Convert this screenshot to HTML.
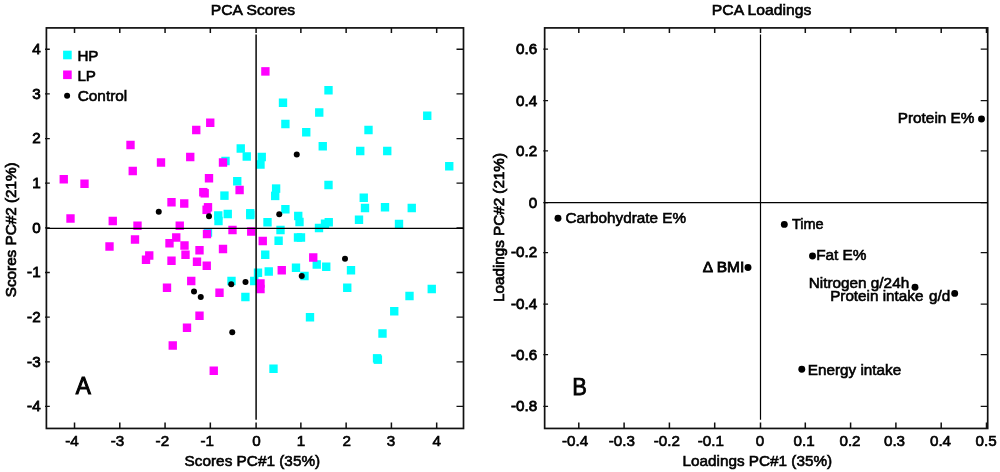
<!DOCTYPE html>
<html lang="en"><head><meta charset="utf-8"><title>PCA Scores and Loadings</title>
<style>html,body{margin:0;padding:0;background:#fff}body{width:1000px;height:472px;overflow:hidden}svg{display:block;will-change:transform;opacity:.999}text{font-family:"Liberation Sans",Arial,Helvetica,sans-serif;fill:#000;stroke:#000;font-size:15.2px}.k{stroke-width:.8px}.kx{stroke-width:.65px}.l{stroke-width:.6px}.v{stroke-width:.7px}.big{font-size:24px;stroke-width:.9px}</style></head><body>
<svg width="1000" height="472" viewBox="0 0 1000 472">
<rect width="1000" height="472" fill="#fff"/>
<g fill="#00ffff">
<rect x="324.32" y="86.00" width="8.35" height="8.5"/>
<rect x="278.82" y="98.50" width="8.35" height="8.5"/>
<rect x="315.07" y="108.25" width="8.35" height="8.5"/>
<rect x="281.22" y="119.75" width="8.35" height="8.5"/>
<rect x="302.07" y="128.00" width="8.35" height="8.5"/>
<rect x="364.32" y="125.75" width="8.35" height="8.5"/>
<rect x="423.07" y="111.50" width="8.35" height="8.5"/>
<rect x="236.57" y="144.25" width="8.35" height="8.5"/>
<rect x="242.57" y="152.25" width="8.35" height="8.5"/>
<rect x="257.57" y="152.75" width="8.35" height="8.5"/>
<rect x="256.32" y="160.25" width="8.35" height="8.5"/>
<rect x="221.32" y="156.75" width="8.35" height="8.5"/>
<rect x="233.07" y="177.00" width="8.35" height="8.5"/>
<rect x="220.27" y="191.40" width="8.35" height="8.5"/>
<rect x="271.93" y="184.35" width="8.35" height="8.5"/>
<rect x="271.02" y="191.65" width="8.35" height="8.5"/>
<rect x="281.22" y="205.00" width="8.35" height="8.5"/>
<rect x="246.07" y="209.05" width="8.35" height="8.5"/>
<rect x="246.12" y="210.75" width="8.35" height="8.5"/>
<rect x="223.57" y="209.75" width="8.35" height="8.5"/>
<rect x="214.07" y="211.25" width="8.35" height="8.5"/>
<rect x="214.32" y="216.75" width="8.35" height="8.5"/>
<rect x="263.32" y="218.00" width="8.35" height="8.5"/>
<rect x="276.32" y="225.75" width="8.35" height="8.5"/>
<rect x="274.43" y="236.50" width="8.35" height="8.5"/>
<rect x="203.82" y="228.25" width="8.35" height="8.5"/>
<rect x="318.57" y="142.00" width="8.35" height="8.5"/>
<rect x="356.07" y="146.75" width="8.35" height="8.5"/>
<rect x="383.07" y="146.75" width="8.35" height="8.5"/>
<rect x="445.07" y="162.00" width="8.35" height="8.5"/>
<rect x="324.32" y="180.75" width="8.35" height="8.5"/>
<rect x="359.57" y="193.50" width="8.35" height="8.5"/>
<rect x="360.82" y="203.75" width="8.35" height="8.5"/>
<rect x="380.82" y="203.00" width="8.35" height="8.5"/>
<rect x="407.57" y="203.75" width="8.35" height="8.5"/>
<rect x="294.07" y="211.75" width="8.35" height="8.5"/>
<rect x="295.32" y="217.75" width="8.35" height="8.5"/>
<rect x="354.82" y="215.50" width="8.35" height="8.5"/>
<rect x="394.82" y="219.75" width="8.35" height="8.5"/>
<rect x="324.57" y="218.00" width="8.35" height="8.5"/>
<rect x="320.82" y="219.50" width="8.35" height="8.5"/>
<rect x="314.82" y="223.75" width="8.35" height="8.5"/>
<rect x="293.82" y="233.25" width="8.35" height="8.5"/>
<rect x="296.82" y="233.25" width="8.35" height="8.5"/>
<rect x="261.07" y="250.50" width="8.35" height="8.5"/>
<rect x="253.82" y="268.50" width="8.35" height="8.5"/>
<rect x="264.57" y="267.25" width="8.35" height="8.5"/>
<rect x="227.32" y="276.75" width="8.35" height="8.5"/>
<rect x="250.07" y="276.75" width="8.35" height="8.5"/>
<rect x="241.22" y="292.75" width="8.35" height="8.5"/>
<rect x="291.82" y="263.50" width="8.35" height="8.5"/>
<rect x="312.57" y="260.25" width="8.35" height="8.5"/>
<rect x="322.07" y="262.50" width="8.35" height="8.5"/>
<rect x="346.82" y="266.00" width="8.35" height="8.5"/>
<rect x="300.32" y="271.75" width="8.35" height="8.5"/>
<rect x="343.07" y="283.50" width="8.35" height="8.5"/>
<rect x="427.57" y="284.75" width="8.35" height="8.5"/>
<rect x="405.32" y="291.75" width="8.35" height="8.5"/>
<rect x="390.07" y="307.00" width="8.35" height="8.5"/>
<rect x="305.82" y="313.00" width="8.35" height="8.5"/>
<rect x="378.32" y="329.25" width="8.35" height="8.5"/>
<rect x="269.32" y="364.50" width="8.35" height="8.5"/>
<rect x="372.88" y="354.10" width="8.35" height="8.5"/>
<rect x="373.72" y="355.40" width="8.35" height="8.5"/>
</g><g fill="#ff00ff">
<rect x="261.22" y="67.15" width="8.35" height="8.5"/>
<rect x="206.07" y="118.50" width="8.35" height="8.5"/>
<rect x="192.07" y="125.75" width="8.35" height="8.5"/>
<rect x="126.33" y="140.75" width="8.35" height="8.5"/>
<rect x="186.07" y="152.75" width="8.35" height="8.5"/>
<rect x="156.82" y="158.25" width="8.35" height="8.5"/>
<rect x="218.82" y="158.25" width="8.35" height="8.5"/>
<rect x="128.57" y="166.75" width="8.35" height="8.5"/>
<rect x="59.58" y="175.00" width="8.35" height="8.5"/>
<rect x="80.33" y="179.50" width="8.35" height="8.5"/>
<rect x="204.82" y="174.00" width="8.35" height="8.5"/>
<rect x="235.42" y="185.75" width="8.35" height="8.5"/>
<rect x="199.12" y="187.95" width="8.35" height="8.5"/>
<rect x="200.52" y="189.05" width="8.35" height="8.5"/>
<rect x="167.32" y="198.00" width="8.35" height="8.5"/>
<rect x="180.07" y="199.25" width="8.35" height="8.5"/>
<rect x="203.82" y="203.05" width="8.35" height="8.5"/>
<rect x="202.42" y="205.55" width="8.35" height="8.5"/>
<rect x="66.33" y="214.25" width="8.35" height="8.5"/>
<rect x="108.58" y="216.75" width="8.35" height="8.5"/>
<rect x="133.32" y="221.50" width="8.35" height="8.5"/>
<rect x="175.57" y="221.50" width="8.35" height="8.5"/>
<rect x="228.32" y="225.75" width="8.35" height="8.5"/>
<rect x="247.07" y="227.25" width="8.35" height="8.5"/>
<rect x="202.82" y="229.75" width="8.35" height="8.5"/>
<rect x="130.82" y="235.25" width="8.35" height="8.5"/>
<rect x="172.07" y="233.25" width="8.35" height="8.5"/>
<rect x="165.32" y="239.00" width="8.35" height="8.5"/>
<rect x="105.33" y="242.25" width="8.35" height="8.5"/>
<rect x="180.32" y="241.25" width="8.35" height="8.5"/>
<rect x="258.57" y="236.75" width="8.35" height="8.5"/>
<rect x="218.82" y="244.75" width="8.35" height="8.5"/>
<rect x="195.32" y="246.00" width="8.35" height="8.5"/>
<rect x="145.07" y="251.25" width="8.35" height="8.5"/>
<rect x="141.82" y="255.50" width="8.35" height="8.5"/>
<rect x="181.32" y="250.50" width="8.35" height="8.5"/>
<rect x="167.32" y="256.50" width="8.35" height="8.5"/>
<rect x="192.82" y="257.50" width="8.35" height="8.5"/>
<rect x="202.57" y="261.50" width="8.35" height="8.5"/>
<rect x="187.07" y="276.75" width="8.35" height="8.5"/>
<rect x="162.82" y="283.50" width="8.35" height="8.5"/>
<rect x="215.32" y="288.50" width="8.35" height="8.5"/>
<rect x="195.32" y="311.50" width="8.35" height="8.5"/>
<rect x="182.82" y="323.50" width="8.35" height="8.5"/>
<rect x="168.57" y="341.25" width="8.35" height="8.5"/>
<rect x="277.57" y="266.00" width="8.35" height="8.5"/>
<rect x="256.32" y="279.25" width="8.35" height="8.5"/>
<rect x="256.32" y="284.75" width="8.35" height="8.5"/>
<rect x="309.07" y="253.25" width="8.35" height="8.5"/>
<rect x="209.57" y="366.50" width="8.35" height="8.5"/>
</g><g fill="#000">
<circle cx="158.75" cy="211.75" r="3"/>
<circle cx="209.00" cy="216.25" r="3"/>
<circle cx="279.25" cy="214.25" r="3"/>
<circle cx="296.75" cy="154.50" r="3"/>
<circle cx="231.25" cy="284.25" r="3"/>
<circle cx="245.50" cy="282.00" r="3"/>
<circle cx="194.00" cy="291.50" r="3"/>
<circle cx="200.75" cy="297.00" r="3"/>
<circle cx="232.25" cy="332.25" r="3"/>
<circle cx="345.00" cy="258.75" r="3"/>
<circle cx="301.75" cy="276.00" r="3"/>
</g>
<rect x="63.1" y="50.7" width="8.6" height="8.6" fill="#00ffff"/>
<rect x="63.1" y="70.5" width="8.6" height="8.6" fill="#ff00ff"/>
<circle cx="67.1" cy="95.8" r="3" fill="#000"/>
<text id="lgHP" class="l" x="77.40" y="60.60">HP</text>
<text id="lgLP" class="l" x="77.40" y="80.50">LP</text>
<text id="lgC" class="l" textLength="49.57" lengthAdjust="spacingAndGlyphs" x="77.72" y="101.20">Control</text>
<g stroke="#111" fill="none">
<rect x="46.4" y="27.9" width="417.10" height="400.55" stroke-width="1.7"/>
<path stroke-width="1.5" d="M74.52 27.90v5M74.52 428.45v-5.9M119.79 27.90v5M119.79 428.45v-5.9M165.06 27.90v5M165.06 428.45v-5.9M210.33 27.90v5M210.33 428.45v-5.9M256.10 27.90v5M256.10 428.45v-5.9M300.87 27.90v5M300.87 428.45v-5.9M346.14 27.90v5M346.14 428.45v-5.9M391.41 27.90v5M391.41 428.45v-5.9M436.68 27.90v5M436.68 428.45v-5.9"/>
<path stroke-width="1.3" d="M45.00 406.45h4.8M463.50 406.45h-7M45.00 361.80h4.8M463.50 361.80h-7M45.00 317.15h4.8M463.50 317.15h-7M45.00 272.50h4.8M463.50 272.50h-7M45.00 227.85h4.8M463.50 227.85h-7M45.00 183.20h4.8M463.50 183.20h-7M45.00 138.55h4.8M463.50 138.55h-7M45.00 93.90h4.8M463.50 93.90h-7M45.00 49.25h4.8M463.50 49.25h-7"/>
<path stroke="#000" stroke-width="1.45" d="M256.10 34.50V419.85M46.40 228.35H463.50"/>
</g>
<text id="lx-4" class="kx" text-anchor="middle" x="72.02" y="446.00">-4</text>
<text id="ly-4" class="k" text-anchor="end" x="40.60" y="411.15">-4</text>
<text id="lx-3" class="kx" text-anchor="middle" x="117.39" y="446.00">-3</text>
<text id="ly-3" class="k" text-anchor="end" x="40.60" y="366.50">-3</text>
<text id="lx-2" class="kx" text-anchor="middle" x="162.36" y="446.00">-2</text>
<text id="ly-2" class="k" text-anchor="end" x="40.60" y="321.85">-2</text>
<text id="lx-1" class="kx" text-anchor="middle" x="207.33" y="446.00">-1</text>
<text id="ly-1" class="k" text-anchor="end" x="40.60" y="277.20">-1</text>
<text id="lx0" class="kx" text-anchor="middle" x="256.40" y="446.00">0</text>
<text id="ly0" class="k" text-anchor="end" x="40.60" y="232.55">0</text>
<text id="lx1" class="kx" text-anchor="middle" x="300.87" y="446.00">1</text>
<text id="ly1" class="k" text-anchor="end" x="40.60" y="187.90">1</text>
<text id="lx2" class="kx" text-anchor="middle" x="346.64" y="446.00">2</text>
<text id="ly2" class="k" text-anchor="end" x="40.60" y="143.25">2</text>
<text id="lx3" class="kx" text-anchor="middle" x="391.01" y="446.00">3</text>
<text id="ly3" class="k" text-anchor="end" x="40.60" y="98.60">3</text>
<text id="lx4" class="kx" text-anchor="middle" x="436.68" y="446.00">4</text>
<text id="ly4" class="k" text-anchor="end" x="40.60" y="53.95">4</text>
<text id="titleL" class="l" textLength="84.32" lengthAdjust="spacingAndGlyphs" x="210.84" y="15.30">PCA Scores</text>
<text id="xlabL" class="l" textLength="135.59" lengthAdjust="spacingAndGlyphs" x="184.58" y="466.30">Scores PC#1 (35%)</text>
<text id="ylabL" class="v" textLength="134.86" lengthAdjust="spacingAndGlyphs" transform="translate(16.40 297.24) rotate(-90)">Scores PC#2 (21%)</text>
<text id="A" class="big" textLength="15.09" lengthAdjust="spacingAndGlyphs" x="75.87" y="394.10" style="stroke-width:1.05px">A</text>
<g stroke="#111" fill="none">
<rect x="544.65" y="27.9" width="443.05" height="400.55" stroke-width="1.7"/>
<path stroke-width="1.5" d="M578.80 27.90v5M578.80 428.45v-5.9M624.10 27.90v5M624.10 428.45v-5.9M669.40 27.90v5M669.40 428.45v-5.9M714.70 27.90v5M714.70 428.45v-5.9M760.50 27.90v5M760.50 428.45v-5.9M805.30 27.90v5M805.30 428.45v-5.9M850.60 27.90v5M850.60 428.45v-5.9M895.90 27.90v5M895.90 428.45v-5.9M941.20 27.90v5M941.20 428.45v-5.9M986.50 27.90v5M986.50 428.45v-5.9"/>
<path stroke-width="1.3" d="M543.25 406.30h4.8M987.70 406.30h-7M543.25 354.70h4.8M987.70 354.70h-7M543.25 304.20h4.8M987.70 304.20h-7M543.25 252.60h4.8M987.70 252.60h-7M543.25 202.70h4.8M987.70 202.70h-7M543.25 150.80h4.8M987.70 150.80h-7M543.25 100.70h4.8M987.70 100.70h-7M543.25 49.10h4.8M987.70 49.10h-7"/>
<path stroke="#000" stroke-width="1.2" d="M760.50 34.50V419.85M544.65 202.55H987.70"/>
</g>
<text id="rx-4" class="kx" text-anchor="middle" x="575.10" y="446.30">-0.4</text>
<text id="rx-3" class="kx" text-anchor="middle" x="621.90" y="446.30">-0.3</text>
<text id="rx-2" class="kx" text-anchor="middle" x="666.80" y="446.30">-0.2</text>
<text id="rx-1" class="kx" text-anchor="middle" x="710.90" y="446.30">-0.1</text>
<text id="rx0" class="kx" text-anchor="middle" x="760.00" y="446.30">0</text>
<text id="rx1" class="kx" text-anchor="middle" x="804.10" y="446.30">0.1</text>
<text id="rx2" class="kx" text-anchor="middle" x="850.00" y="446.30">0.2</text>
<text id="rx3" class="kx" text-anchor="middle" x="894.50" y="446.30">0.3</text>
<text id="rx4" class="kx" text-anchor="middle" x="940.50" y="446.30">0.4</text>
<text id="rx5" class="kx" text-anchor="middle" x="986.10" y="446.30">0.5</text>
<text id="ry-4" class="k" text-anchor="end" x="537.20" y="411.10">-0.8</text>
<text id="ry-3" class="k" text-anchor="end" x="537.20" y="359.50">-0.6</text>
<text id="ry-2" class="k" text-anchor="end" x="537.20" y="309.00">-0.4</text>
<text id="ry-1" class="k" text-anchor="end" x="537.20" y="257.40">-0.2</text>
<text id="ry0" class="k" text-anchor="end" x="537.20" y="207.50">0</text>
<text id="ry1" class="k" text-anchor="end" x="537.20" y="155.60">0.2</text>
<text id="ry2" class="k" text-anchor="end" x="537.20" y="105.50">0.4</text>
<text id="ry3" class="k" text-anchor="end" x="537.20" y="53.90">0.6</text>
<text id="titleR" class="l" textLength="99.59" lengthAdjust="spacingAndGlyphs" x="711.82" y="15.30">PCA Loadings</text>
<text id="xlabR" class="l" textLength="149.59" lengthAdjust="spacingAndGlyphs" x="682.51" y="466.00">Loadings PC#1 (35%)</text>
<text id="ylabR" class="v" textLength="148.99" lengthAdjust="spacingAndGlyphs" transform="translate(503.60 302.00) rotate(-90)">Loadings PC#2 (21%)</text>
<text id="B" class="big" textLength="14.69" lengthAdjust="spacingAndGlyphs" x="572.21" y="394.50" style="font-size:23.5px;stroke-width:.75px">B</text>
<circle cx="981.5" cy="119" r="3.45" fill="#000"/>
<text id="pE" class="l" textLength="76.78" lengthAdjust="spacingAndGlyphs" x="897.73" y="123.30">Protein E%</text>
<circle cx="558" cy="218.3" r="3.45" fill="#000"/>
<text id="cE" class="l" textLength="120.56" lengthAdjust="spacingAndGlyphs" x="565.53" y="222.60">Carbohydrate E%</text>
<circle cx="784.3" cy="224.4" r="3.45" fill="#000"/>
<text id="tm" class="l" textLength="31.73" lengthAdjust="spacingAndGlyphs" x="791.91" y="228.60">Time</text>
<circle cx="812.5" cy="256" r="3.45" fill="#000"/>
<text id="fE" class="l" textLength="50.35" lengthAdjust="spacingAndGlyphs" x="816.17" y="260.40">Fat E%</text>
<circle cx="915" cy="287.3" r="3.45" fill="#000"/>
<text id="ng" class="l" textLength="100.53" lengthAdjust="spacingAndGlyphs" x="808.66" y="288.00">Nitrogen g/24h</text>
<circle cx="954.7" cy="293.4" r="3.45" fill="#000"/>
<text id="pi" class="l" textLength="120.09" lengthAdjust="spacingAndGlyphs" x="830.13" y="301.20">Protein intake <tspan dx="1.3">g/d</tspan></text>
<circle cx="801.8" cy="369.3" r="3.45" fill="#000"/>
<text id="ei" class="l" textLength="93.30" lengthAdjust="spacingAndGlyphs" x="807.89" y="375.10">Energy intake</text>
<circle cx="748" cy="267.5" r="3.45" fill="#000"/>
<text id="bm" class="k" textLength="41.42" lengthAdjust="spacingAndGlyphs" x="702.89" y="271.90">Δ BMI</text>
</svg></body></html>
